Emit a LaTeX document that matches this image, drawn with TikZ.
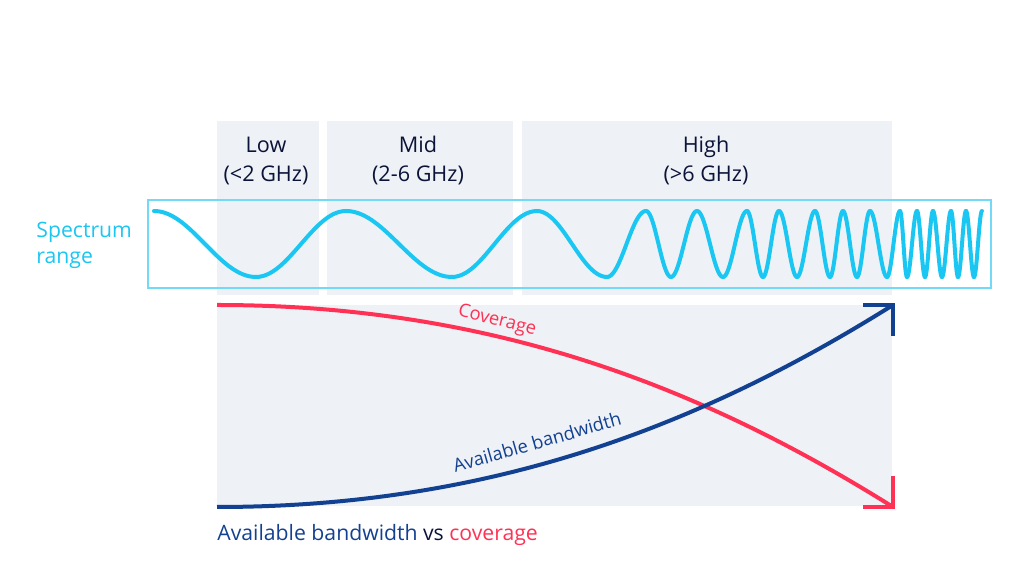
\documentclass[tikz,border=0pt]{standalone}
\usepackage{fontspec}
\setmainfont{Open Sans}
\definecolor{bandgray}{HTML}{EEF1F5}
\definecolor{wavecyan}{HTML}{1AC6F2}
\definecolor{boxcyan}{HTML}{72D9F6}
\definecolor{bwblue}{HTML}{124191}
\definecolor{covred}{HTML}{FF3154}
\definecolor{darknavy}{HTML}{0B1438}
\tikzset{
	bandlabel/.style = {text = darknavy, align = center, inner sep = 0pt, font = \fontsize{10.8}{14.5}\selectfont},
	curvelabel/.style = {inner sep = 0pt, font = \fontsize{9.2}{11}\selectfont},
	wave/.style = {wavecyan, line width = 2pt, line cap = round},
	curve/.style = {line width = 2pt},
	corner/.style = {line width = 2pt, line join = miter},
}
\begin{document}
\begin{tikzpicture}[x = .5pt, y = -.5pt]
	\useasboundingbox (0,0) rectangle (1024,576);
	\fill[bandgray] (217,121) rectangle (319,295); % low band
	\fill[bandgray] (327,121) rectangle (513,295); % mid band
	\fill[bandgray] (522,121) rectangle (892,295); % high band
	\fill[bandgray] (217,305) rectangle (892,506); % chart area
	\node[bandlabel] (low) at (266,161) {Low\\(<2 GHz)};
	\node[bandlabel] (mid) at (418,161) {Mid\\(2-6 GHz)};
	\node[bandlabel] (high) at (706,161) {High\\(>6 GHz)};
	\node[text = wavecyan, align = left, anchor = west, inner sep = 0pt, font = \fontsize{10.6}{13}\selectfont] (spectrum) at (36,245) {Spectrum\\range};
	\draw[boxcyan, line width = .7pt] (148,200) rectangle (991,288); % spectrum box
	\foreach \xb [remember = \xb as \xa (initially 154), count = \i] in {256,346,452,537,607,646,671,697,723,747,763,779,797,815,830,843,857,870,887,900,907,917,925,933,942,951,958,966,974,982}
		\draw[wave] plot[domain = 0:1, samples = 24, smooth] ({\xa + (\xb - \xa)*\x}, {244 - 33*cos(180*(\i - 1 + \x))});
	\coordinate (covstart) at (217,305);
	\coordinate (covend) at (893,507);
	\coordinate (bwstart) at (217,507);
	\coordinate (bwend) at (893,305);
	\draw[covred, curve] (covstart) .. controls (490,305) and (700,386) .. (covend);
	\draw[covred, corner] (covend) ++(-30,0) -- (covend) -- ++(0,-31);
	\draw[bwblue, curve] (bwstart) .. controls (490,507) and (700,426) .. (bwend);
	\draw[bwblue, corner] (bwend) ++(-30,0) -- (bwend) -- ++(0,31);
	\node[curvelabel, text = covred, rotate = -14] (covlabel) at (497,321) {Coverage};
	\node[curvelabel, text = bwblue, rotate = 16] (bwlabel) at (537,442) {Available bandwidth};
	\node[anchor = west, inner sep = 0pt, font = \fontsize{10.6}{13}\selectfont] (title) at (217,535) {\textcolor{bwblue}{Available bandwidth} \textcolor{darknavy}{vs} \textcolor{covred}{coverage}};
\end{tikzpicture}
\end{document}
